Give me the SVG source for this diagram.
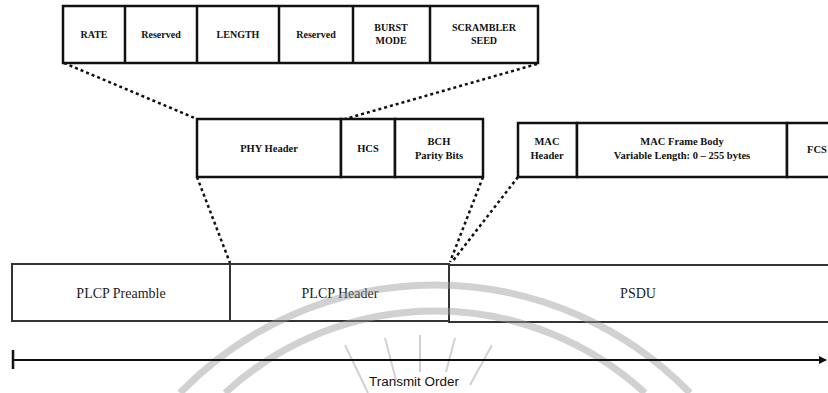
<svg xmlns="http://www.w3.org/2000/svg" width="828" height="393" viewBox="0 0 828 393">
<style>
.box{fill:#fff;stroke:#111;stroke-width:2.5}
.low{fill:#fff;stroke:#333;stroke-width:2}
.t{font-family:"Liberation Serif",serif;font-weight:bold;font-size:10px;fill:#111;text-anchor:middle}
.m{font-family:"Liberation Serif",serif;font-weight:bold;font-size:10.5px;fill:#111;text-anchor:middle}
.b{font-family:"Liberation Serif",serif;font-size:14px;fill:#222;text-anchor:middle}
.dot{fill:none;stroke:#111;stroke-width:2.5;stroke-dasharray:3 3}
.wm{fill:none;stroke:#9a9a9a;stroke-opacity:0.45;stroke-width:7}
.ray{fill:none;stroke:#9a9a9a;stroke-opacity:0.45;stroke-width:2}
</style>
<defs>
<marker id="ah" markerWidth="8" markerHeight="8" refX="7" refY="4" orient="auto" markerUnits="userSpaceOnUse">
<path d="M0,0 L8,4 L0,8 Z" fill="#111"/>
</marker>
</defs>
<g id="top-fields">
<rect class="box" x="63" y="6" width="475" height="57"/>
<path d="M125,6V63M197,6V63M279,6V63M353,6V63M430,6V63" stroke="#111" stroke-width="2.5"/>
<text class="t" x="94" y="38">RATE</text>
<text class="t" x="161" y="38">Reserved</text>
<text class="t" x="238" y="38">LENGTH</text>
<text class="t" x="316" y="38">Reserved</text>
<text class="t" x="391" y="31">BURST</text>
<text class="t" x="391" y="44">MODE</text>
<text class="t" x="484" y="31">SCRAMBLER</text>
<text class="t" x="484" y="44">SEED</text>
</g>
<g id="phy-header">
<rect class="box" x="197" y="119" width="144" height="58"/>
<text class="m" x="269" y="152">PHY Header</text>
</g>
<g id="hcs">
<rect class="box" x="341" y="119" width="54" height="58"/>
<text class="m" x="368" y="152">HCS</text>
</g>
<g id="bch">
<rect class="box" x="395" y="119" width="88" height="58"/>
<text class="m" x="439" y="145">BCH</text>
<text class="m" x="439" y="159">Parity Bits</text>
</g>
<g id="mac-header">
<rect class="box" x="518" y="123" width="59" height="54"/>
<text class="m" x="547" y="145">MAC</text>
<text class="m" x="547" y="159">Header</text>
</g>
<g id="mac-body">
<rect class="box" x="577" y="123" width="210" height="54"/>
<text class="m" x="682" y="145">MAC Frame Body</text>
<text class="m" x="682" y="159">Variable Length: 0 – 255 bytes</text>
</g>
<g id="fcs">
<rect class="box" x="787" y="123" width="60" height="54"/>
<text class="m" x="817" y="153">FCS</text>
</g>
<g id="plcp-preamble">
<rect class="low" x="12" y="264" width="218" height="57"/>
<text class="b" x="121" y="298">PLCP Preamble</text>
</g>
<g id="plcp-header">
<rect class="low" x="230" y="264" width="219" height="57"/>
<text class="b" x="340" y="298">PLCP Header</text>
</g>
<g id="psdu">
<rect class="low" x="449" y="265" width="400" height="57"/>
<text class="b" x="638" y="298">PSDU</text>
</g>
<g id="watermark">
<path class="wm" d="M180,393 A355,355 0 0 1 690,393"/>
<path class="wm" d="M225,393 A310,310 0 0 1 645,393"/>
<path class="ray" d="M345,345 L368,393 M385,338 L396,380 M420,335 L420,372 M455,338 L446,372 M492,345 L470,385"/>
</g>
<g id="connectors">
<path class="dot" d="M64,63 L197,119"/>
<path class="dot" d="M537,64 L345,119"/>
<path class="dot" d="M197,177 L230,263"/>
<path class="dot" d="M483,177 L450,262"/>
<path class="dot" d="M518,177 L452,262"/>
<path d="M13,350 V369" stroke="#111" stroke-width="2.5"/>
<path d="M13,360 H826" stroke="#111" stroke-width="2" marker-end="url(#ah)"/>
</g>
<text x="414" y="386" font-family="Liberation Sans,sans-serif" font-size="12" fill="#111" text-anchor="middle" textLength="90" lengthAdjust="spacingAndGlyphs">Transmit Order</text>
</svg>
